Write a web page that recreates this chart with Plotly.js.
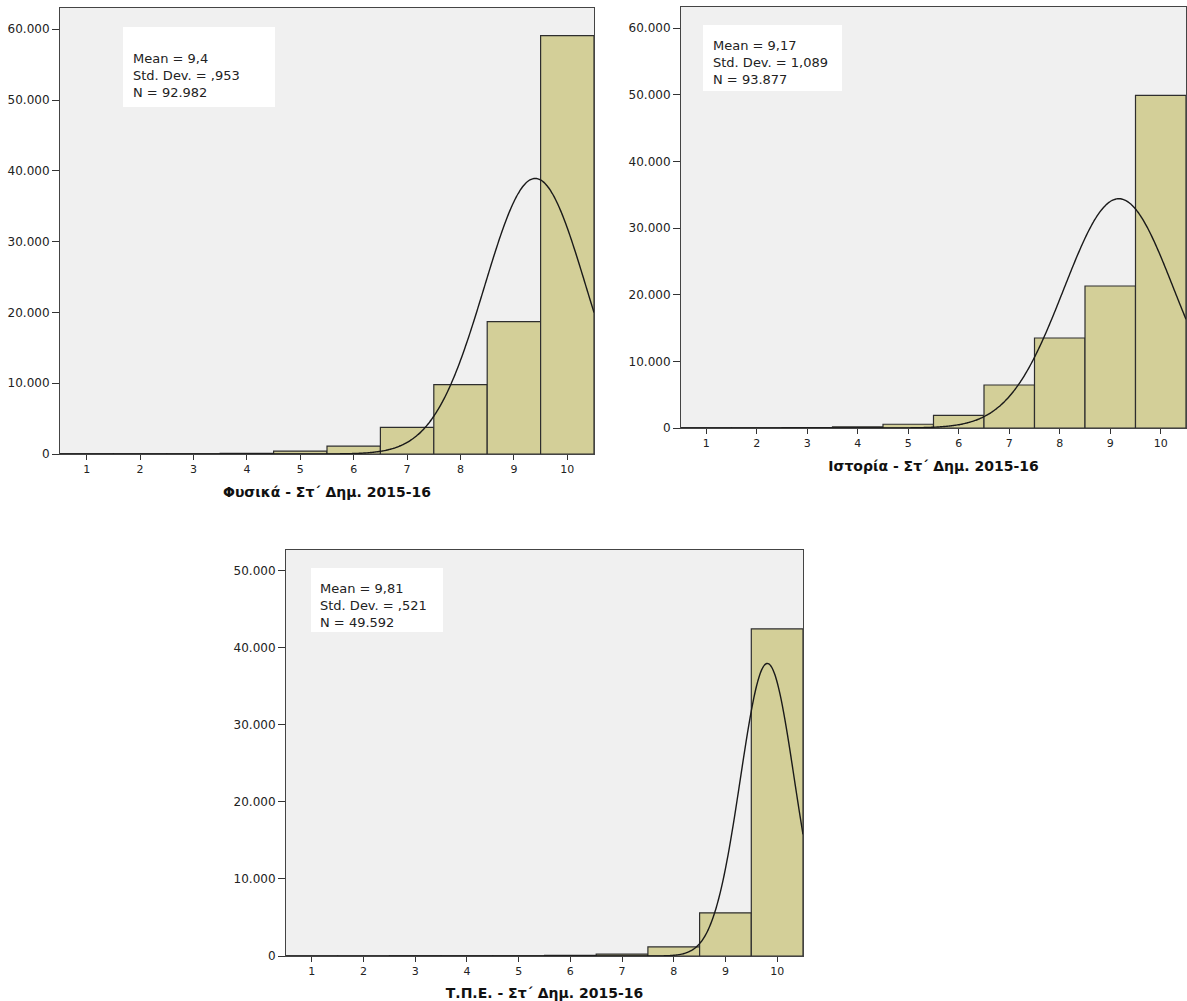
<!DOCTYPE html>
<html>
<head>
<meta charset="utf-8">
<script src="https://cdn.plot.ly/plotly-3.0.1.min.js"></script>
<style>html,body{margin:0;padding:0;background:#fff;}</style>
</head>
<body>
<div id="chart" style="width:1187px;height:1001px;"></div>
<script>
// Grades (bins)
const grades = [1, 2, 3, 4, 5, 6, 7, 8, 9, 10];

// Frequencies
const physicsCounts = [5, 7, 20, 80, 420, 1100, 3750, 9800, 18700, 59100];
const historyCounts = [17, 20, 50, 180, 560, 1900, 6450, 13500, 21300, 49900];
const ictCounts     = [1, 2, 4, 10, 25, 70, 250, 1180, 5600, 42450];

// Titles
const titles = ["Φυσικά - Στ΄ Δημ. 2015-16", "Ιστορία - Στ΄ Δημ. 2015-16", "Τ.Π.Ε. - Στ΄ Δημ. 2015-16"];

// Summary statistics shown in the boxes
const means = [9.4, 9.17, 9.81];
const sds = [0.953, 1.089, 0.521];
const ns = [92982, 93877, 49592];
const meanLabels = ["9,4", "9,17", "9,81"];
const sdLabels = [",953", "1,089", ",521"];
const nLabels = ["92.982", "93.877", "49.592"];

const yTop = [63000, 63150, 52700];
const yTickVals = [[0,10000,20000,30000,40000,50000,60000],[0,10000,20000,30000,40000,50000,60000],[0,10000,20000,30000,40000,50000]];

const W = 1187, H = 1001;
const FONT = 'DejaVu Sans, Liberation Sans, Arial, sans-serif';
const boxes = [
  {x0:123, x1:275, y0:27, y1:107, tx:132, ty:75},
  {x0:703, x1:842, y0:25, y1:91, tx:712, ty:63},
  {x0:311, x1:443, y0:568, y1:632, tx:319, ty:605}
];
const domX = [[60/W, 594/W], [681/W, 1186/W], [286/W, 803/W]];
const domY = [[1-454/H, 1-8/H], [1-428/H, 1-7/H], [1-956/H, 1-550/H]];

const counts = [physicsCounts, historyCounts, ictCounts];
const traces = [];
const layout = {
  width: W, height: H,
  margin: {l:0, r:0, t:0, b:0},
  paper_bgcolor: '#ffffff',
  plot_bgcolor: '#f0f0f0',
  showlegend: false,
  separators: ',.',
  font: {family: FONT, color: '#222'},
  bargap: 0,
  shapes: [],
  annotations: []
};

for (let i = 0; i < 3; i++) {
  const xa = i === 0 ? 'x' : 'x' + (i+1);
  const ya = i === 0 ? 'y' : 'y' + (i+1);
  traces.push({
    type: 'bar', x: grades, y: counts[i], xaxis: xa, yaxis: ya,
    width: 1,
    marker: {color: '#d3cf98', line: {color: '#2e2e2e', width: 1.2}},
    hoverinfo: 'x+y'
  });
  // normal curve defined by the displayed mean, SD and N (bin width 1)
  const cx = [], cy = [];
  for (let k = 0; k <= 400; k++) {
    const xv = 0.5 + k * 10 / 400;
    const z = (xv - means[i]) / sds[i];
    cx.push(xv);
    cy.push(ns[i] / (sds[i] * Math.sqrt(2*Math.PI)) * Math.exp(-0.5*z*z));
  }
  traces.push({
    type: 'scatter', mode: 'lines', x: cx, y: cy, xaxis: xa, yaxis: ya,
    line: {color: '#1a1a1a', width: 1.4, shape: 'spline'}, hoverinfo: 'skip'
  });
  const xk = i === 0 ? 'xaxis' : 'xaxis' + (i+1);
  const yk = i === 0 ? 'yaxis' : 'yaxis' + (i+1);
  layout[xk] = {
    domain: domX[i], anchor: ya, range: [0.5, 10.5],
    tickmode: 'array', tickvals: grades, ticktext: grades.map(String),
    ticks: 'outside', ticklen: 5, tickcolor: '#333', tickwidth: 1,
    tickfont: {size: 11, color: '#222', family: FONT},
    showgrid: false, zeroline: false,
    showline: true, mirror: true, linecolor: '#444', linewidth: 1,
    title: {text: '<b>' + titles[i] + '</b>', font: {size: 14, color: '#111', family: FONT}, standoff: 11}
  };
  layout[yk] = {
    domain: domY[i], anchor: xa, range: [0, yTop[i]],
    tickmode: 'array', tickvals: yTickVals[i],
    tickformat: ',d',
    ticks: 'outside', ticklen: 7, tickcolor: '#333', tickwidth: 1,
    tickfont: {size: 12, color: '#222', family: FONT},
    showgrid: false, zeroline: false,
    showline: true, mirror: true, linecolor: '#444', linewidth: 1
  };
  const b = boxes[i];
  layout.shapes.push({type:'rect', xref:'paper', yref:'paper',
    x0: b.x0/W, x1: b.x1/W, y0: 1-b.y1/H, y1: 1-b.y0/H,
    fillcolor:'#ffffff', line:{width:0}, layer:'above'});
  const text = 'Mean = ' + meanLabels[i] + '<br>Std. Dev. = ' + sdLabels[i] + '<br>N = ' + nLabels[i];
  layout.annotations.push({xref:'paper', yref:'paper', x: b.tx/W, y: 1-b.ty/H,
    xanchor:'left', yanchor:'middle', align:'left', text: text, showarrow:false,
    borderpad: 0,
    font:{size:13, color:'#222', family: FONT}});
}

Plotly.newPlot('chart', traces, layout, {displayModeBar: false, staticPlot: true});
</script>
</body>
</html>
